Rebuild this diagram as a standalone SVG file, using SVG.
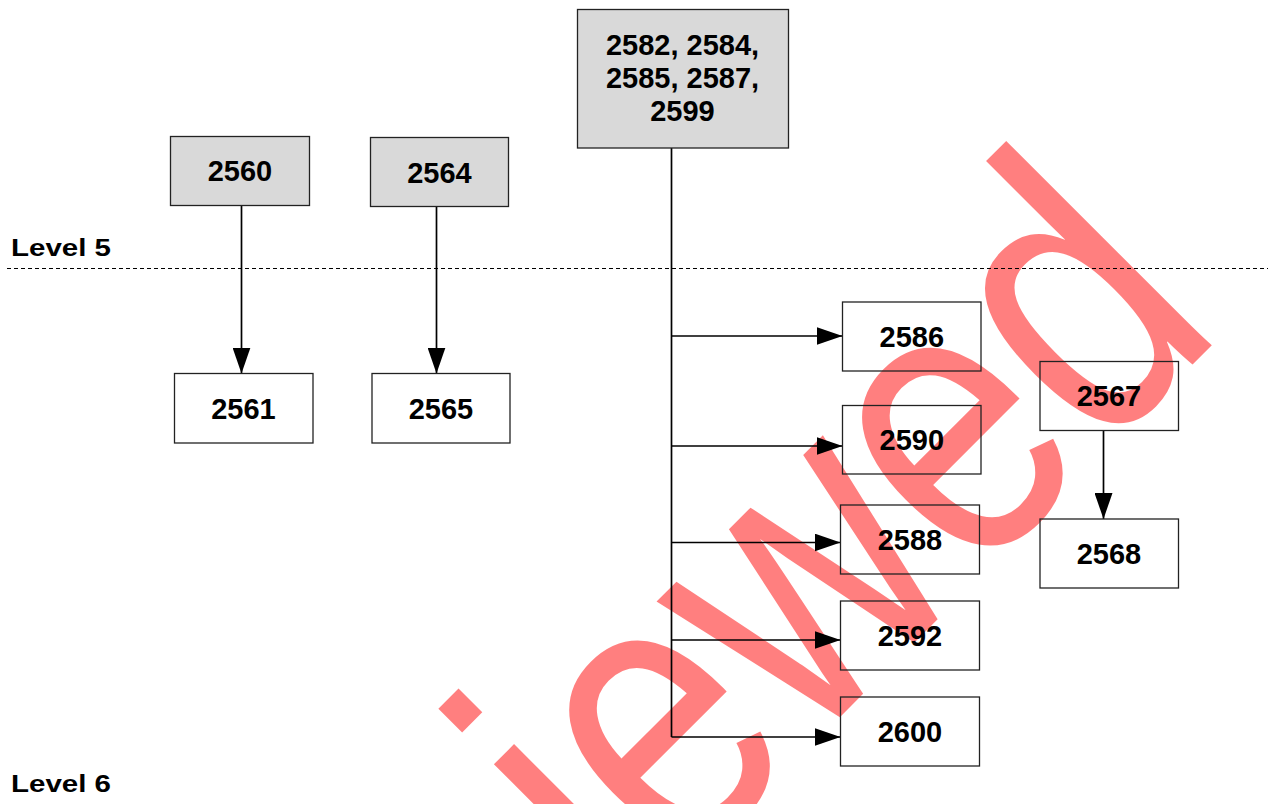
<svg xmlns="http://www.w3.org/2000/svg" width="1268" height="804" viewBox="0 0 1268 804">
<defs>
<marker id="ah" markerWidth="26" markerHeight="18" refX="26" refY="9" orient="auto" markerUnits="userSpaceOnUse"><path d="M0,0 L26,9 L0,18 Z" fill="#000"/></marker>
</defs>
<style>
.box{stroke:#222;stroke-width:1.3}
.g{fill:#d9d9d9}
.w{fill:none}
.lbl{font-family:"Liberation Sans",Arial,sans-serif;font-weight:bold;font-size:29px;text-anchor:middle;fill:#000}
.lvl{font-family:"Liberation Sans",Arial,sans-serif;font-weight:bold;font-size:24px;fill:#000}
.c{stroke:#000;stroke-width:1.7;fill:none}
.wm{font-family:"Liberation Sans",Arial,sans-serif;font-size:400px;fill:#ff0000;fill-opacity:0.5}
</style>
<rect x="0" y="0" width="1268" height="804" fill="#fff"/>
<g id="watermark">
<text class="wm" transform="translate(628,929) rotate(-45) scale(0.81,1)">iewed</text>
</g>
<g id="levels">
<line x1="7" y1="268.5" x2="1268" y2="268.5" stroke="#000" stroke-width="1.2" stroke-dasharray="4,3"/>
<text class="lvl" x="11" y="256" textLength="100" lengthAdjust="spacingAndGlyphs">Level 5</text>
<text class="lvl" x="11" y="792" textLength="100" lengthAdjust="spacingAndGlyphs">Level 6</text>
</g>
<g id="connectors">
<path class="c" d="M241.5,205 V373.5" marker-end="url(#ah)"/>
<path class="c" d="M436.5,206.5 V373.5" marker-end="url(#ah)"/>
<path class="c" d="M1103.5,430.5 V519" marker-end="url(#ah)"/>
<path class="c" d="M671.5,148 V737"/>
<path class="c" d="M671.5,336 H842.5" marker-end="url(#ah)"/>
<path class="c" d="M671.5,446 H842.5" marker-end="url(#ah)"/>
<path class="c" d="M671.5,542.5 H840.5" marker-end="url(#ah)"/>
<path class="c" d="M671.5,640 H840.5" marker-end="url(#ah)"/>
<path class="c" d="M671.5,737 H840.5" marker-end="url(#ah)"/>
</g>
<g id="n2582">
<rect class="box g" x="577.5" y="9.5" width="211" height="138.5"/>
<text class="lbl" x="682.5" y="55">2582, 2584,</text>
<text class="lbl" x="682.5" y="88">2585, 2587,</text>
<text class="lbl" x="682.5" y="121">2599</text>
</g>
<g id="n2560">
<rect class="box g" x="170.5" y="136.5" width="139" height="69"/>
<text class="lbl" x="240" y="181">2560</text>
</g>
<g id="n2564">
<rect class="box g" x="370.5" y="137.5" width="138" height="69"/>
<text class="lbl" x="439.5" y="182.5">2564</text>
</g>
<g id="n2561">
<rect class="box w" x="174.5" y="373.5" width="138.5" height="69.5"/>
<text class="lbl" x="243.5" y="418.5">2561</text>
</g>
<g id="n2565">
<rect class="box w" x="372" y="373.5" width="138" height="69.5"/>
<text class="lbl" x="441" y="418.5">2565</text>
</g>
<g id="n2586">
<rect class="box w" x="842.5" y="302" width="138.5" height="69"/>
<text class="lbl" x="911.8" y="346.5">2586</text>
</g>
<g id="n2590">
<rect class="box w" x="842.5" y="405.5" width="138.5" height="68.5"/>
<text class="lbl" x="911.8" y="450">2590</text>
</g>
<g id="n2588">
<rect class="box w" x="840.5" y="505" width="139" height="69"/>
<text class="lbl" x="910" y="549.5">2588</text>
</g>
<g id="n2592">
<rect class="box w" x="840.5" y="601" width="139" height="69"/>
<text class="lbl" x="910" y="645.5">2592</text>
</g>
<g id="n2600">
<rect class="box w" x="840.5" y="697" width="139" height="69"/>
<text class="lbl" x="910" y="741.5">2600</text>
</g>
<g id="n2567">
<rect class="box w" x="1040" y="361.5" width="138.5" height="69"/>
<text class="lbl" x="1109" y="406">2567</text>
</g>
<g id="n2568">
<rect class="box w" x="1040" y="519" width="138.5" height="69"/>
<text class="lbl" x="1109" y="563.5">2568</text>
</g>
</svg>
